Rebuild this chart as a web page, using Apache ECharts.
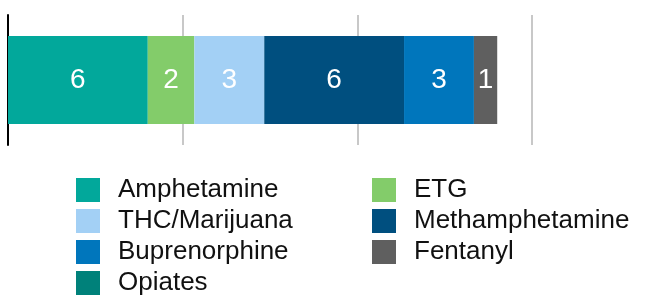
<!DOCTYPE html>
<html>
<head>
<meta charset="utf-8">
<script src="https://cdn.jsdelivr.net/npm/echarts@6/dist/echarts.min.js"></script>
<style>
  html, body { margin: 0; padding: 0; background: #fff; }
  #chart { width: 646px; height: 297px; }
</style>
</head>
<body>
<div id="chart"></div>
<script>
// data
const seriesNames = ['Amphetamine', 'ETG', 'THC/Marijuana', 'Methamphetamine', 'Buprenorphine', 'Fentanyl', 'Opiates'];
const seriesValues = [6, 2, 3, 6, 3, 1, 0];
const seriesColors = ['#02a89b', '#83cc6a', '#a3d0f5', '#004f7f', '#0076bc', '#5f5f5f', '#00817a'];
const legendLeft = ['Amphetamine', 'THC/Marijuana', 'Buprenorphine', 'Opiates'];
const legendRight = ['ETG', 'Methamphetamine', 'Fentanyl'];

const font = '"Liberation Sans", Arial, Helvetica, sans-serif';
const myChart = echarts.init(document.getElementById('chart'));

let series = seriesNames.map((name, i) => ({
  name: name,
  type: 'bar',
  stack: 'total',
  barWidth: 88,
  data: [seriesValues[i]],
  itemStyle: { color: seriesColors[i] },
  label: {
    show: true,
    position: 'inside',
    color: '#fff',
    fontSize: 28,
    fontFamily: font,
    formatter: p => (p.value ? String(p.value) : '')
  },
  emphasis: { disabled: true }
}));

const legendBase = {
  orient: 'vertical',
  top: 177,
  height: 140,
  padding: 0,
  itemWidth: 24,
  itemHeight: 24,
  itemGap: 5,
  icon: 'rect',
  selectedMode: false,
  textStyle: { fontSize: 26, color: '#111', fontFamily: font, padding: [0, 0, 0, 13] }
};

let option = {
  animation: false,
  grid: { left: 8, top: 15, bottom: 152, right: 9 },
  legend: [
    Object.assign({}, legendBase, { left: 76, data: legendLeft }),
    Object.assign({}, legendBase, { left: 372, data: legendRight })
  ],
  xAxis: {
    type: 'value',
    min: 0,
    max: 27,
    interval: 7.5,
    axisLine: { show: false },
    axisTick: { show: false },
    axisLabel: { show: false },
    splitLine: { showMaxLine: false, lineStyle: { color: '#c8c8c8', width: 2 } }
  },
  yAxis: {
    type: 'category',
    data: [''],
    axisLine: { lineStyle: { color: '#000', width: 2 } },
    axisTick: { show: false },
    axisLabel: { show: false }
  },
  series: series
};
myChart.setOption(option);
</script>
</body>
</html>
